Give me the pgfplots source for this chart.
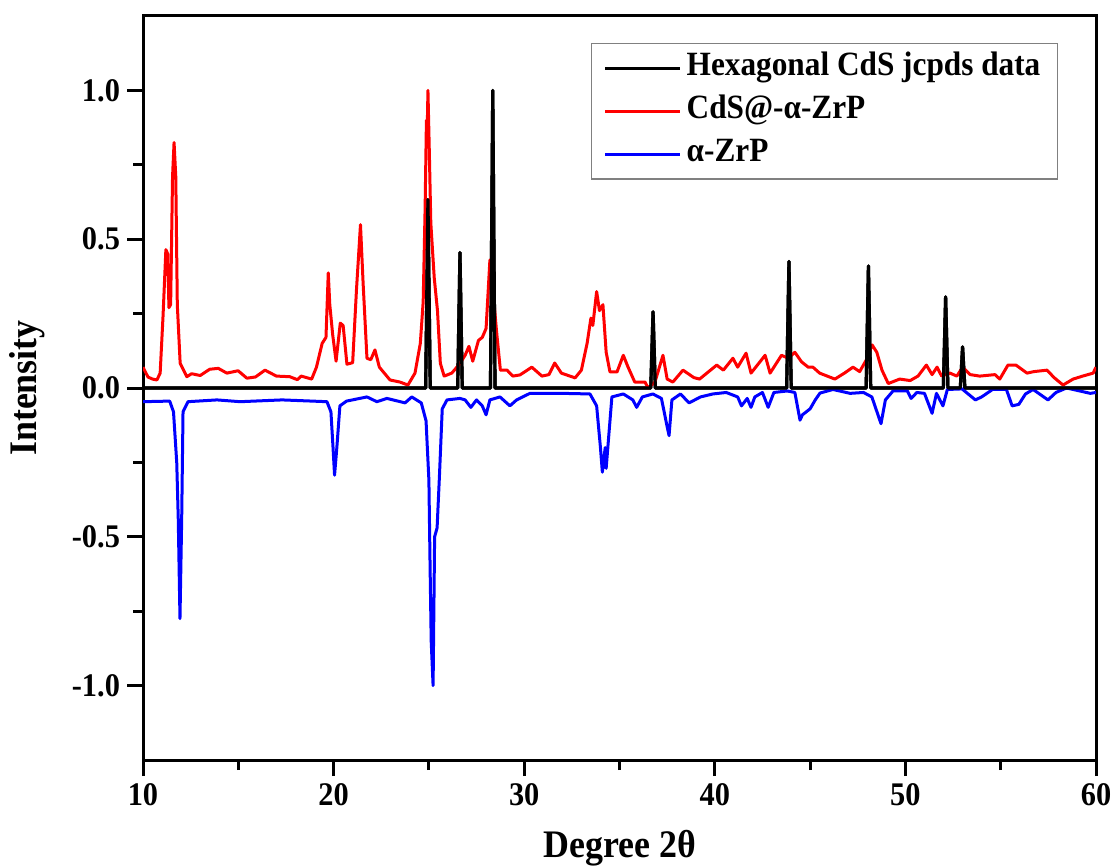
\documentclass[border=0pt]{standalone}
\usepackage{fontspec}
\setmainfont{Liberation Serif}[FakeStretch=0.92]
\usepackage{pgfplots}
\usepackage{pgfplotstable}
\pgfplotsset{compat=1.18}

% JCPDS sticks (hexagonal CdS), baseline at zero
\pgfplotstableread{
x y
10 0
24.83 0
24.95 0.633
25.07 0
26.51 0
26.63 0.455
26.75 0
28.23 0
28.35 1.0
28.47 0
36.64 0
36.76 0.256
36.88 0
43.77 0
43.89 0.425
44.01 0
47.94 0
48.06 0.41
48.18 0
51.99 0
52.11 0.306
52.23 0
52.88 0
53.00 0.138
53.12 0
60 0
}\jcpds

% CdS@-alpha-ZrP pattern
\pgfplotstableread{
x y
10.0 0.07
10.26 0.037
10.5 0.03
10.73 0.027
10.9 0.05
11.05 0.24
11.2 0.465
11.3 0.45
11.36 0.27
11.45 0.28
11.55 0.71
11.63 0.825
11.72 0.71
11.8 0.28
11.95 0.083
12.3 0.038
12.55 0.048
13.0 0.042
13.5 0.063
13.95 0.066
14.4 0.05
14.99 0.058
15.45 0.033
15.9 0.037
16.4 0.06
17.0 0.04
17.7 0.038
18.1 0.028
18.3 0.04
18.85 0.03
19.1 0.07
19.4 0.15
19.6 0.17
19.72 0.387
19.8 0.28
19.95 0.18
20.13 0.09
20.35 0.218
20.5 0.21
20.7 0.08
21.0 0.085
21.2 0.33
21.41 0.549
21.55 0.35
21.75 0.1
21.95 0.095
22.17 0.128
22.4 0.07
22.96 0.027
23.48 0.02
23.9 0.01
24.27 0.05
24.55 0.15
24.7 0.29
24.8 0.6
24.87 0.9
24.91 0.86
24.95 1.0
25.02 0.8
25.1 0.555
25.28 0.37
25.45 0.26
25.6 0.083
25.8 0.04
26.2 0.05
26.6 0.08
26.9 0.11
27.1 0.14
27.3 0.09
27.6 0.16
27.8 0.17
28.0 0.2
28.2 0.43
28.3 0.42
28.4 0.3
28.55 0.19
28.75 0.06
29.1 0.06
29.4 0.04
29.78 0.044
30.4 0.07
30.93 0.04
31.3 0.045
31.6 0.084
31.95 0.05
32.67 0.034
33.0 0.06
33.3 0.15
33.5 0.235
33.6 0.21
33.8 0.324
33.95 0.26
34.13 0.28
34.3 0.12
34.5 0.054
34.87 0.054
35.2 0.11
35.45 0.07
35.8 0.02
36.34 0.02
36.5 0.0
36.86 0.02
37.28 0.11
37.5 0.03
37.8 0.02
38.33 0.06
38.9 0.035
39.2 0.03
40.1 0.077
40.45 0.06
40.95 0.1
41.2 0.07
41.64 0.117
41.9 0.05
42.64 0.11
42.9 0.05
43.5 0.11
43.85 0.1
44.2 0.12
44.55 0.088
44.9 0.07
45.15 0.07
45.5 0.05
46.3 0.03
46.8 0.05
47.25 0.07
47.6 0.055
48.0 0.1
48.25 0.145
48.5 0.12
48.77 0.06
49.1 0.015
49.7 0.03
50.25 0.025
50.66 0.04
51.1 0.077
51.4 0.045
51.66 0.07
51.9 0.04
52.34 0.05
52.7 0.04
53.0 0.07
53.4 0.045
53.9 0.04
54.7 0.045
54.95 0.03
55.38 0.077
55.8 0.077
56.38 0.05
56.73 0.055
57.43 0.06
57.8 0.035
58.27 0.01
58.8 0.03
59.3 0.04
59.85 0.05
60.0 0.07
}\cdszrp

% alpha-ZrP pattern (plotted inverted)
\pgfplotstableread{
x y
10.0 -0.046
11.4 -0.044
11.6 -0.08
11.77 -0.25
11.85 -0.44
11.94 -0.775
12.03 -0.44
12.1 -0.08
12.36 -0.046
13.88 -0.04
15.1 -0.046
17.3 -0.04
19.65 -0.046
19.86 -0.08
19.97 -0.2
20.05 -0.293
20.17 -0.2
20.33 -0.06
20.68 -0.044
21.75 -0.03
22.27 -0.046
22.8 -0.035
23.75 -0.05
24.1 -0.03
24.6 -0.05
24.85 -0.11
25.0 -0.31
25.06 -0.59
25.12 -0.85
25.22 -1.0
25.3 -0.5
25.43 -0.47
25.55 -0.3
25.7 -0.07
25.95 -0.04
26.63 -0.035
26.9 -0.04
27.2 -0.065
27.5 -0.04
27.8 -0.06
28.0 -0.09
28.2 -0.04
28.73 -0.03
29.25 -0.06
29.6 -0.04
30.3 -0.018
31.2 -0.018
32.0 -0.018
33.45 -0.02
33.8 -0.06
34.0 -0.2
34.1 -0.283
34.25 -0.2
34.3 -0.27
34.45 -0.15
34.6 -0.03
35.2 -0.02
35.7 -0.04
35.9 -0.065
36.2 -0.03
36.75 -0.02
37.2 -0.035
37.5 -0.13
37.6 -0.16
37.75 -0.04
38.2 -0.02
38.65 -0.05
39.25 -0.03
39.9 -0.02
40.6 -0.015
41.2 -0.03
41.4 -0.06
41.7 -0.035
41.9 -0.065
42.1 -0.03
42.5 -0.015
42.8 -0.065
43.1 -0.015
43.8 -0.01
44.2 -0.015
44.47 -0.108
44.6 -0.09
45.0 -0.07
45.27 -0.04
45.52 -0.017
46.2 -0.005
47.1 -0.018
47.8 -0.015
48.24 -0.03
48.4 -0.06
48.72 -0.12
48.95 -0.04
49.35 -0.01
50.1 -0.01
50.3 -0.035
50.6 -0.015
51.0 -0.018
51.4 -0.085
51.63 -0.018
51.97 -0.06
52.2 -0.005
52.97 -0.003
53.67 -0.04
54.0 -0.03
54.57 -0.005
55.3 -0.005
55.6 -0.06
55.95 -0.055
56.3 -0.02
56.7 -0.005
57.48 -0.04
57.9 -0.015
58.45 0.0
59.15 -0.01
59.7 -0.018
60.0 -0.015
}\zrp

\begin{document}
\begin{tikzpicture}
\begin{axis}[
  scale only axis,
  width=476.5pt, height=372pt,
  xmin=10, xmax=60, ymin=-1.25, ymax=1.25,
  xtick={10,20,30,40,50,60},
  xticklabels={10,20,30,40,50,60},
  ytick={-1,-0.5,0,0.5,1},
  yticklabels={-1.0,-0.5,0.0,0.5,1.0},
  minor x tick num=1, minor y tick num=1,
  xtick pos=left, ytick pos=left,
  tick align=outside,
  major tick length=8pt, minor tick length=5pt,
  tick style={black, line width=1.5pt},
  axis line style={line width=1.5pt},
  ticklabel style={font=\fontsize{16.5}{19}\selectfont\bfseries},
  xlabel={Degree 2θ}, ylabel={Intensity},
  every axis x label/.style={at={([yshift=-48.5pt]axis description cs:0.5,0)}, anchor=base},
  every axis y label/.style={at={([xshift=-58pt]axis description cs:0,0.5)}, rotate=90, anchor=center},
  label style={font=\fontsize{19.5}{23}\selectfont\bfseries},
  legend cell align=left,
  legend image code/.code={\draw[#1, line width=1.5pt] (0pt,0pt) -- (37.5pt,0pt);},
  legend style={at={(1,1)}, anchor=north east, xshift=-19pt, yshift=-13.5pt,
    draw=gray, line width=0.6pt, fill=white,
    font=\fontsize{17}{20}\selectfont\bfseries,
    inner xsep=6pt, inner ysep=1.6pt, row sep=0pt,
    nodes={inner sep=2.5pt, text height=12pt, text depth=4.5pt}},
]
\addplot[black, line width=1.6pt, line join=round] table {\jcpds};
\addlegendentry{Hexagonal CdS jcpds data}
\addplot[red, line width=1.5pt, line join=round] table {\cdszrp};
\addlegendentry{CdS@-α-ZrP}
\addplot[blue, line width=1.5pt, line join=round] table {\zrp};
\addlegendentry{α-ZrP}
% sticks again on top of the measured patterns
\addplot[black, line width=1.6pt, line join=round, forget plot] table {\jcpds};
\end{axis}
\pgfresetboundingbox
\path[use as bounding box] ([shift={(-71.5pt,-53.5pt)}]current axis.south west)
  rectangle ([shift={(9.5pt,8pt)}]current axis.north east);
\end{tikzpicture}
\end{document}
